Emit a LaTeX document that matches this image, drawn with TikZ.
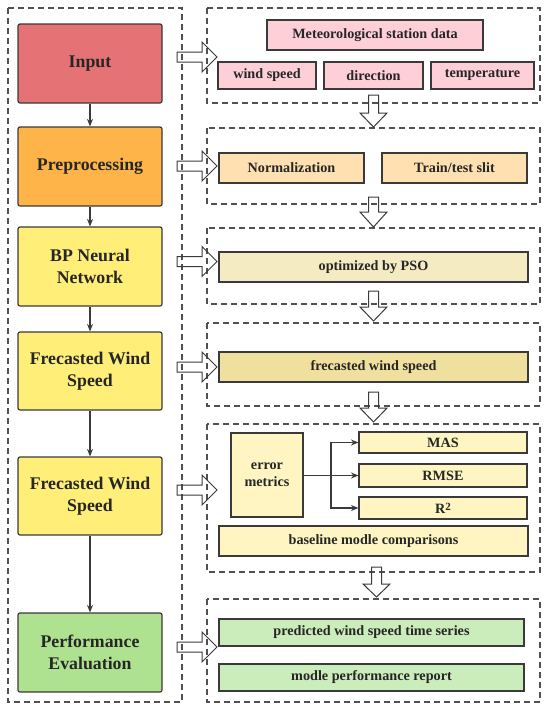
\documentclass[tikz,border=0pt]{standalone}
\usepackage{fontspec}
\setmainfont{Liberation Serif}
\usetikzlibrary{arrows.meta}
\definecolor{txt}{HTML}{262626}
\definecolor{edge}{HTML}{3A3A3A}
\definecolor{cInput}{HTML}{E57274}
\definecolor{cPre}{HTML}{FFB449}
\definecolor{cYel}{HTML}{FFEE78}
\definecolor{cGrn}{HTML}{AEE190}
\definecolor{cPink}{HTML}{FFCFD8}
\definecolor{cOrL}{HTML}{FFE0B0}
\definecolor{cPso}{HTML}{F5EBC3}
\definecolor{cFws}{HTML}{EFE09E}
\definecolor{cErr}{HTML}{FFF5C2}
\definecolor{cGrL}{HTML}{CAEDBB}
\definecolor{dash}{HTML}{505050}
\tikzset{
  lbox/.style={draw=edge, line width=1.2pt, rounded corners=2pt, inner sep=0pt,
    minimum width=144, align=center, text=txt,
    font=\fontsize{17.8}{21.8}\selectfont\bfseries},
  rbox/.style={draw=edge, line width=1.1pt, inner sep=0pt, align=center, text=txt,
    font=\fontsize{14.2}{17}\selectfont\bfseries},
  frame/.style={draw=dash, line width=1.1pt, dash pattern=on 6pt off 4pt},
  flow/.style={draw=edge, line width=1.1pt, -{Stealth[length=7.5pt,width=6pt]}},
  fat/.style={draw=edge, line width=1pt, fill=none, line join=miter},
}
\newcommand\fatH[1]{\draw[fat] (177,#1-5) -- (202,#1-5) -- (202,#1-15) -- (217,#1)
  -- (202,#1+15) -- (202,#1+5) -- (177,#1+5) -- cycle;}
\newcommand\fatV[4]{\draw[fat] (#1-5,#2) -- (#1-5,#3) -- (#1-13.5,#3) -- (#1,#4)
  -- (#1+13.5,#3) -- (#1+5,#3) -- (#1+5,#2) -- cycle;}
\begin{document}
\begin{tikzpicture}[x=1pt,y=-1pt]
\useasboundingbox (0,0) rectangle (550,713);
% frames
\draw[frame] (8,8) rectangle (182,702);
\draw[frame] (207,8) rectangle (540,103);
\draw[frame] (207,128) rectangle (540,204);
\draw[frame] (207,228) rectangle (540,304);
\draw[frame] (207,323) rectangle (540,406);
\draw[frame] (207,424) rectangle (540,572);
\draw[frame] (207,599) rectangle (540,702);
% left column
\node[lbox, fill=cInput, minimum height=79] (input) at (90,63.5) {Input};
\node[lbox, fill=cPre, minimum height=79] (pre) at (90,166.5) {Preprocessing};
\node[lbox, fill=cYel, minimum height=79] (bp) at (90,266.5) {BP Neural\\Network};
\node[lbox, fill=cYel, minimum height=78] (fr1) at (90,371) {Frecasted Wind\\Speed};
\node[lbox, fill=cYel, minimum height=78] (fr2) at (90,496) {Frecasted Wind\\Speed};
\node[lbox, fill=cGrn, minimum height=79] (perf) at (90,652.5) {Performance\\Evaluation};
\draw[flow] (input) -- (pre);
\draw[flow] (pre) -- (bp);
\draw[flow] (bp) -- (fr1);
\draw[flow] (fr1) -- (fr2);
\draw[flow] (fr2) -- (perf);
% right boxes
\node[rbox, fill=cPink, minimum width=216, minimum height=30] (met) at (375,35) {Meteorological station data};
\node[rbox, fill=cPink, minimum width=98, minimum height=27] (ws) at (267,75.5) {wind speed};
\node[rbox, fill=cPink, minimum width=99, minimum height=27] (dir) at (373.5,75.5) {direction};
\node[rbox, fill=cPink, minimum width=103, minimum height=27] (temp) at (482.5,75.5) {temperature};
\node[rbox, fill=cOrL, minimum width=145, minimum height=30] (norm) at (291.5,168) {Normalization};
\node[rbox, fill=cOrL, minimum width=145, minimum height=30] (tt) at (454.5,168) {Train/test slit};
\node[rbox, fill=cPso, minimum width=309, minimum height=30] (pso) at (373.5,267) {optimized by PSO};
\node[rbox, fill=cFws, minimum width=309, minimum height=30] (fws) at (373.5,367) {frecasted wind speed};
\node[rbox, fill=cErr, minimum width=72, minimum height=84] (err) at (267,475) {error\\metrics};
\node[rbox, fill=cErr, minimum width=168, minimum height=21] (mas) at (443,442.5) {MAS};
\node[rbox, fill=cErr, minimum width=168, minimum height=23] (rmse) at (443,475.5) {RMSE};
\node[rbox, fill=cErr, minimum width=168, minimum height=22] (r2) at (443,508) {R\raisebox{0.45ex}{\fontsize{11}{11}\selectfont 2}};
\node[rbox, fill=cErr, minimum width=309, minimum height=30] (base) at (373.5,541) {baseline modle comparisons};
\node[rbox, fill=cGrL, minimum width=305, minimum height=27] (pred) at (371.5,632.5) {predicted wind speed time series};
\node[rbox, fill=cGrL, minimum width=305, minimum height=27] (rep) at (371.5,677.5) {modle performance report};
\coordinate (br) at (331,475.5);
\draw[flow] (err.east |- br) -- (rmse.west);
\draw[flow] (br) |- (mas.west);
\draw[flow] (br) |- (r2.west);
% fat arrows
\fatH{57}
\fatH{166}
\fatH{261.5}
\fatH{367}
\fatH{490}
\fatH{647}
\fatV{373.5}{95}{113}{127}
\fatV{373.5}{197}{212}{227}
\fatV{373.5}{291}{307}{321}
\fatV{373.5}{392}{408}{422}
\fatV{376.5}{567}{584}{597}
\end{tikzpicture}
\end{document}
